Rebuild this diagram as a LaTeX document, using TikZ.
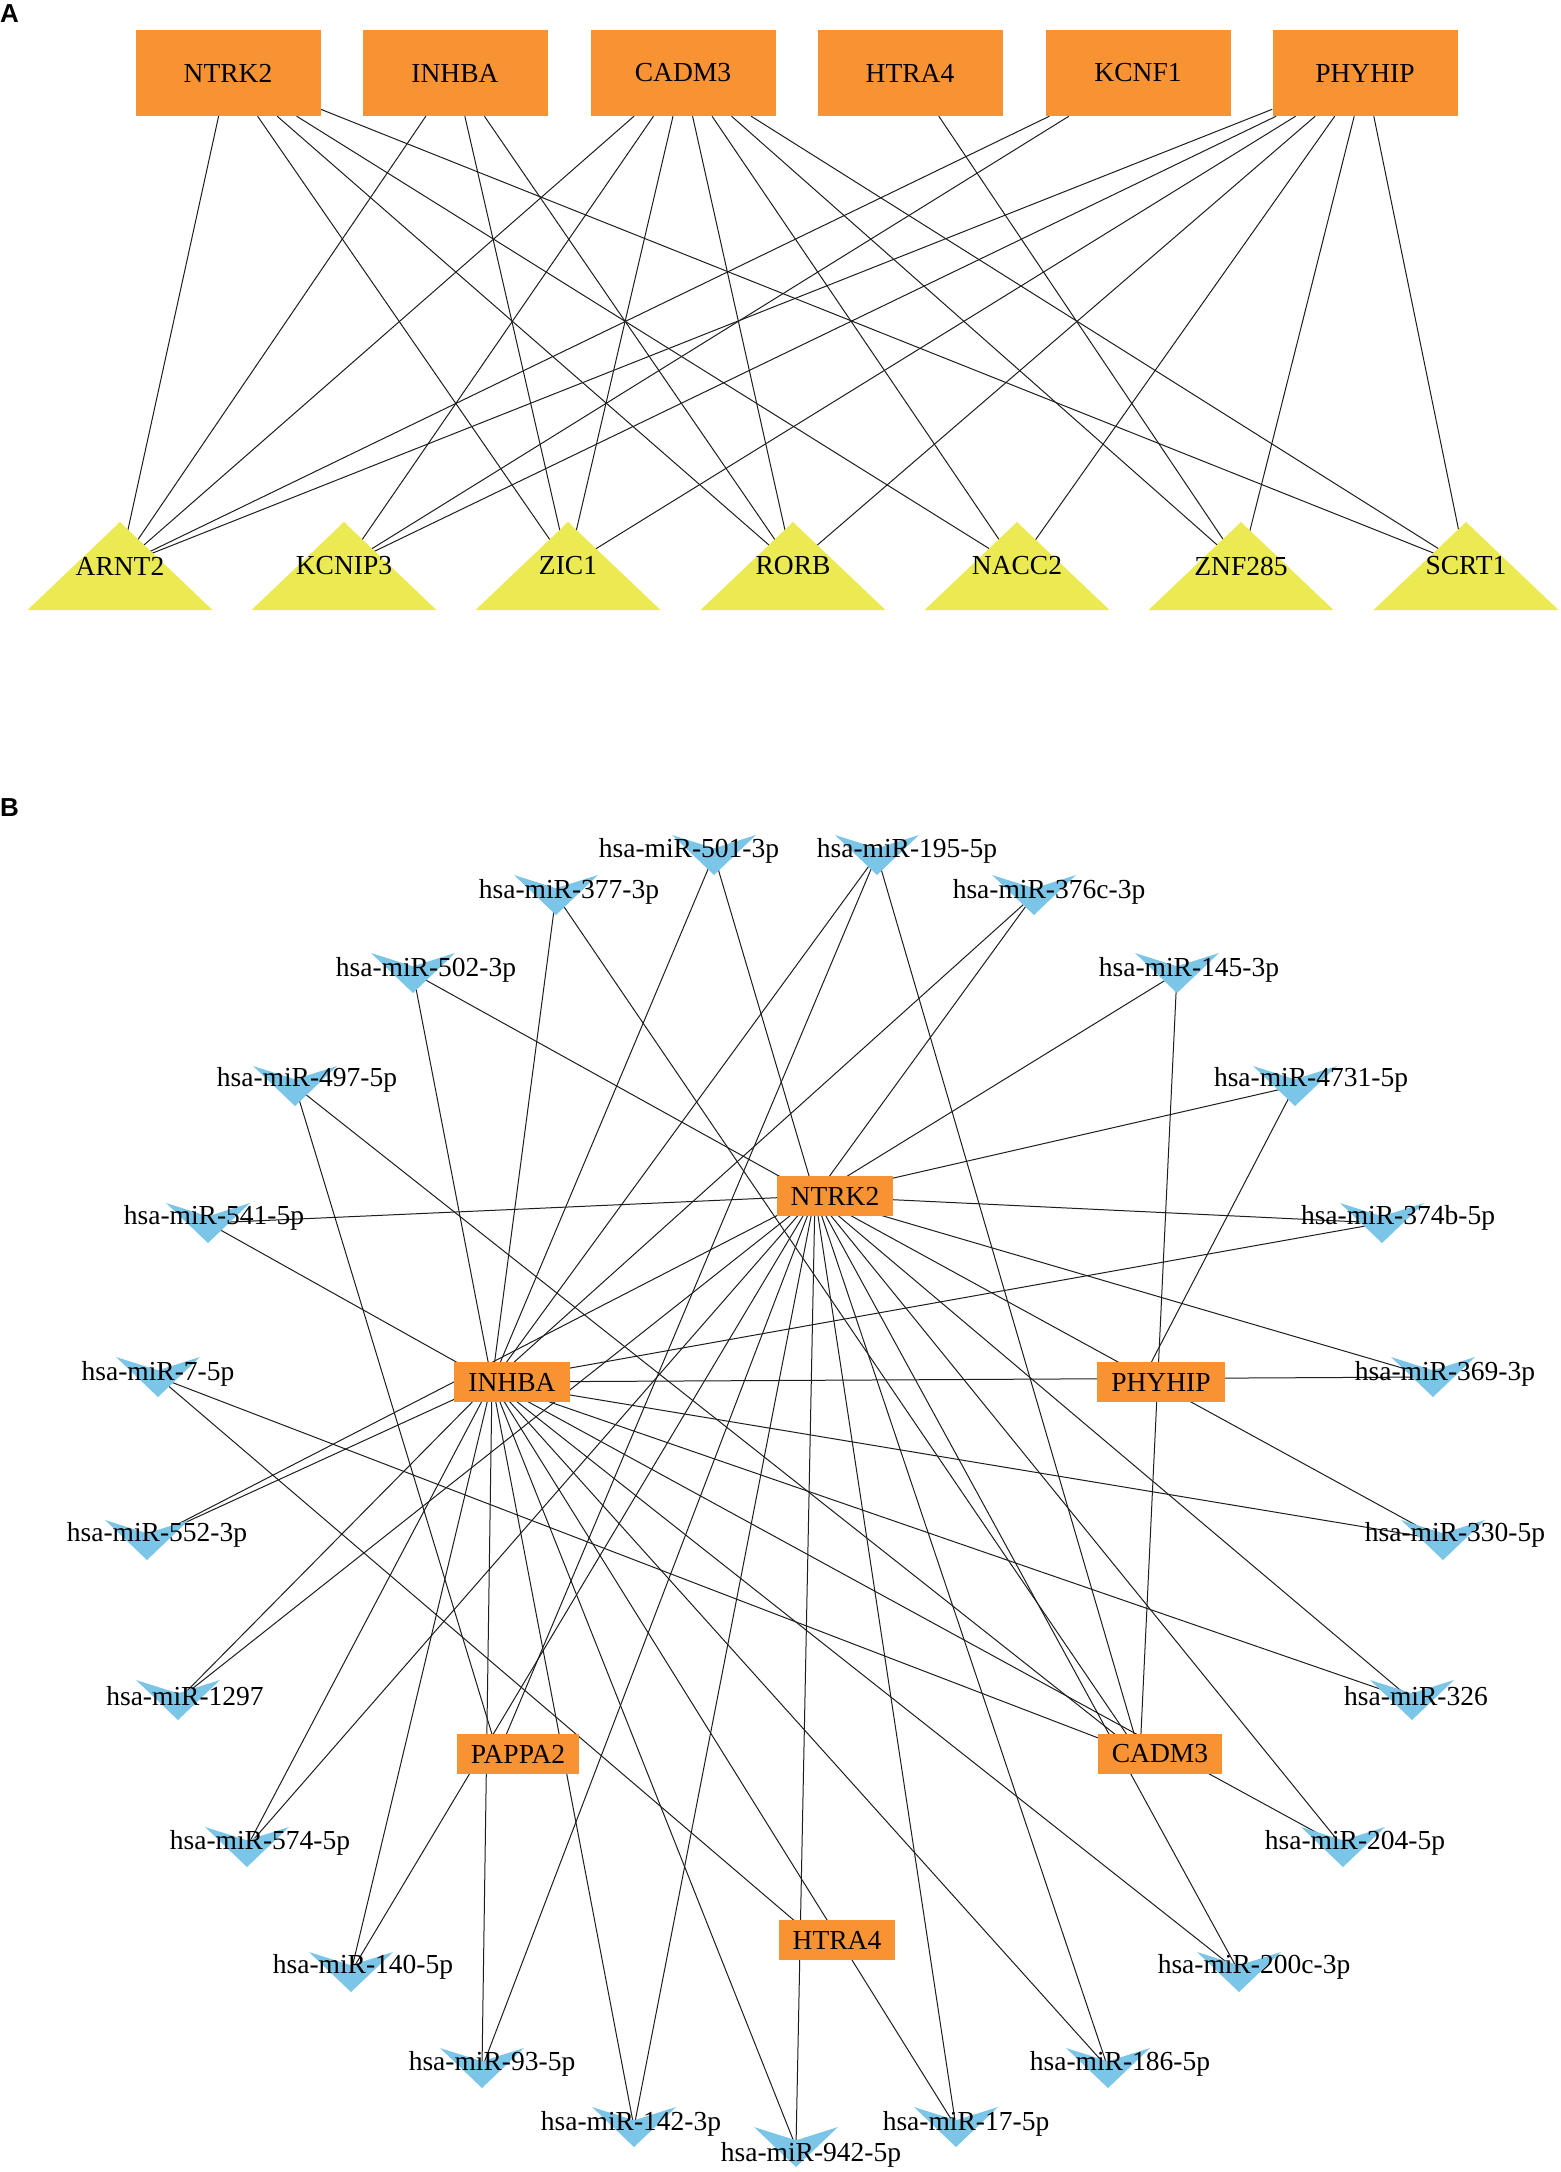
\documentclass[tikz,border=0pt]{standalone}
\usepackage{fontspec}
\setmainfont{Liberation Serif}
\newfontfamily\panelfont{Liberation Sans}
\pgfdeclarelayer{edges}
\pgfdeclarelayer{shapes}
\pgfsetlayers{edges,shapes,main}
\definecolor{hub}{RGB}{247,147,51}
\definecolor{tfcol}{RGB}{235,234,82}
\definecolor{mircol}{RGB}{122,197,232}
\definecolor{edgecol}{RGB}{30,30,30}
\begin{document}
\begin{tikzpicture}[x=1pt,y=-1pt,
  every node/.style={font=\fontsize{27.5}{30}\selectfont, inner sep=0pt},
  boxA/.style={fill=hub, minimum width=185pt, minimum height=86pt},
  boxB/.style={fill=hub, minimum height=40pt, inner xsep=14pt},
  lnk/.style={draw=edgecol, line width=1pt},
  panel/.style={font=\panelfont\bfseries\fontsize{26}{28}\selectfont, anchor=north west}
]
\useasboundingbox (0,0) rectangle (1561,2172);
\begin{pgfonlayer}{edges}
\fill[white] (0,0) rectangle (1561,2172);
\end{pgfonlayer}

% ---------------- Panel A ----------------
\node[panel] (labA) at (0,4) {A};
\node[boxA] (NTRK2a) at (228,73) {NTRK2};
\node[boxA] (INHBAa) at (455,73) {INHBA};
\node[boxA] (CADM3a) at (683,73) {CADM3};
\node[boxA] (HTRA4a) at (910,73) {HTRA4};
\node[boxA] (KCNF1a) at (1138,73) {KCNF1};
\node[boxA] (PHYHIPa) at (1365,73) {PHYHIP};

\node (ARNT2) at (120,566) {ARNT2};
\node (KCNIP3) at (344,566) {KCNIP3};
\node (ZIC1) at (568,566) {ZIC1};
\node (RORB) at (793,566) {RORB};
\node (NACC2) at (1017,566) {NACC2};
\node (ZNF285) at (1241,566) {ZNF285};
\node (SCRT1) at (1466,566) {SCRT1};

\begin{pgfonlayer}{shapes}
\foreach \t in {ARNT2,KCNIP3,ZIC1,RORB,NACC2,ZNF285,SCRT1}
  \fill[tfcol, shift={(\t.center)}] (-92.5,44) -- (0,-44) -- (92.5,44) -- cycle;
\end{pgfonlayer}

\begin{pgfonlayer}{edges}
\foreach \t in {ARNT2,ZIC1,RORB,NACC2,SCRT1} \draw[lnk] (NTRK2a) -- (\t.center);
\foreach \t in {ARNT2,ZIC1,RORB} \draw[lnk] (INHBAa) -- (\t.center);
\foreach \t in {ARNT2,KCNIP3,ZIC1,RORB,NACC2,ZNF285,SCRT1} \draw[lnk] (CADM3a) -- (\t.center);
\foreach \t in {ZNF285} \draw[lnk] (HTRA4a) -- (\t.center);
\foreach \t in {ARNT2,KCNIP3} \draw[lnk] (KCNF1a) -- (\t.center);
\foreach \t in {ARNT2,KCNIP3,ZIC1,RORB,NACC2,ZNF285,SCRT1} \draw[lnk] (PHYHIPa) -- (\t.center);
\end{pgfonlayer}

% ---------------- Panel B ----------------
\node[panel] (labB) at (0,798) {B};

% hub anchor points and boxes
\coordinate (N) at (815,1196);
\coordinate (I) at (492,1382);
\coordinate (P) at (1141,1382);
\coordinate (A) at (498,1754);
\coordinate (C) at (1140,1754);
\coordinate (H) at (817,1940);
\node[boxB] (Nbox) at (835,1196) {NTRK2};
\node[boxB] (Ibox) at (512,1382) {INHBA};
\node[boxB] (Pbox) at (1161,1382) {PHYHIP};
\node[boxB] (Abox) at (518,1754) {PAPPA2};
\node[boxB] (Cbox) at (1160,1754) {CADM3};
\node[boxB] (Hbox) at (837,1940) {HTRA4};

% miRNA shape centres
\coordinate (r501) at (714,855);
\coordinate (r195) at (877,855);
\coordinate (r377) at (556,895);
\coordinate (r376c) at (1034,895);
\coordinate (r502) at (413,973);
\coordinate (r145) at (1177,973);
\coordinate (r497) at (295,1086);
\coordinate (r4731) at (1295,1086);
\coordinate (r541) at (208,1223);
\coordinate (r374b) at (1382,1223);
\coordinate (r7) at (158,1377);
\coordinate (r369) at (1433,1377);
\coordinate (r552) at (147,1540);
\coordinate (r330) at (1443,1540);
\coordinate (r1297) at (178,1700);
\coordinate (r326) at (1412,1700);
\coordinate (r574) at (247,1847);
\coordinate (r204) at (1343,1847);
\coordinate (r140) at (351,1972);
\coordinate (r200c) at (1239,1972);
\coordinate (r93) at (482,2068);
\coordinate (r186) at (1108,2068);
\coordinate (r142) at (634,2127);
\coordinate (r17) at (956,2127);
\coordinate (r942) at (796,2147);

\begin{pgfonlayer}{shapes}
\foreach \m in {r501,r195,r377,r376c,r502,r145,r497,r4731,r541,r374b,r7,r369,r552,r330,r1297,r326,r574,r204,r140,r200c,r93,r186,r142,r17,r942}
  \fill[mircol, shift={(\m)}] (-42,-20) -- (0,-6.7) -- (42,-20) -- (0,20) -- cycle;
\end{pgfonlayer}

% miRNA labels
\node (l501) at (689,851) {hsa-miR-501-3p};
\node (l195) at (907,851) {hsa-miR-195-5p};
\node (l377) at (569,892) {hsa-miR-377-3p};
\node (l376c) at (1049,892) {hsa-miR-376c-3p};
\node (l502) at (426,970) {hsa-miR-502-3p};
\node (l145) at (1189,970) {hsa-miR-145-3p};
\node (l497) at (307,1080) {hsa-miR-497-5p};
\node (l4731) at (1311,1080) {hsa-miR-4731-5p};
\node (l541) at (214,1218) {hsa-miR-541-5p};
\node (l374b) at (1398,1218) {hsa-miR-374b-5p};
\node (l7) at (158,1374) {hsa-miR-7-5p};
\node (l369) at (1445,1374) {hsa-miR-369-3p};
\node (l552) at (157,1535) {hsa-miR-552-3p};
\node (l330) at (1455,1535) {hsa-miR-330-5p};
\node (l1297) at (185,1696) {hsa-miR-1297};
\node (l326) at (1416,1696) {hsa-miR-326};
\node (l574) at (260,1843) {hsa-miR-574-5p};
\node (l204) at (1355,1843) {hsa-miR-204-5p};
\node (l140) at (363,1967) {hsa-miR-140-5p};
\node (l200c) at (1254,1967) {hsa-miR-200c-3p};
\node (l93) at (492,2064) {hsa-miR-93-5p};
\node (l186) at (1120,2064) {hsa-miR-186-5p};
\node (l142) at (631,2124) {hsa-miR-142-3p};
\node (l17) at (966,2124) {hsa-miR-17-5p};
\node (l942) at (811,2155) {hsa-miR-942-5p};

\begin{pgfonlayer}{edges}
\foreach \m in {r501,r376c,r145,r4731,r374b,r369,r330,r326,r204,r200c,r186,r17,r942,r142,r93,r140,r574,r1297,r552,r541,r502}
  \draw[lnk] (N) -- (\m);
\foreach \m in {r501,r377,r502,r541,r195,r376c,r374b,r369,r330,r326,r204,r200c,r186,r17,r942,r142,r93,r140,r574,r1297,r552}
  \draw[lnk] (I) -- (\m);
\foreach \m in {r4731} \draw[lnk] (P) -- (\m);
\foreach \m in {r497,r195} \draw[lnk] (A) -- (\m);
\foreach \m in {r145,r195,r377,r497,r7} \draw[lnk] (C) -- (\m);
\foreach \m in {r7} \draw[lnk] (H) -- (\m);
\end{pgfonlayer}
\end{tikzpicture}
\end{document}
